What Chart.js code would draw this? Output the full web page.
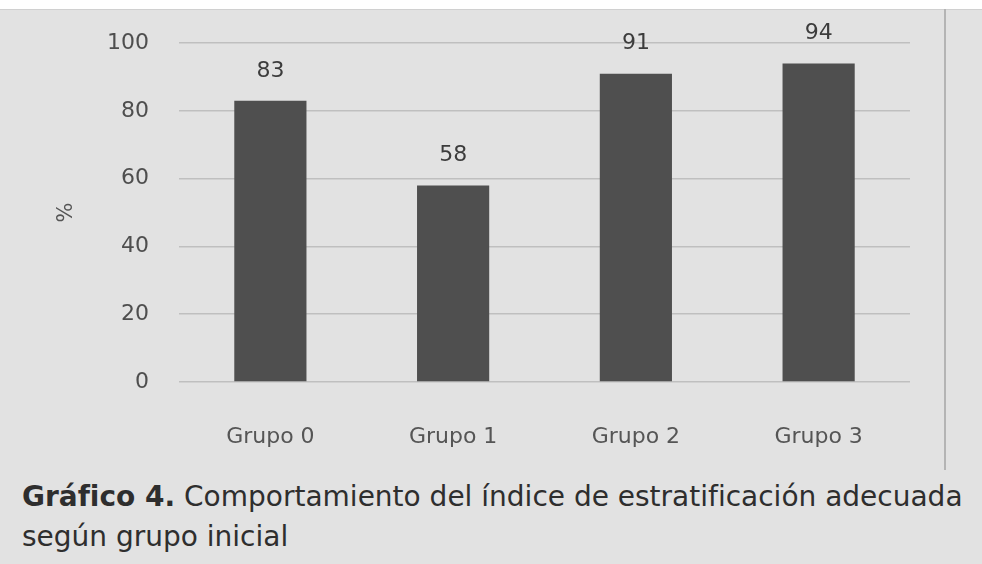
<!DOCTYPE html>
<html lang="es">
<head>
<meta charset="utf-8">
<title>Gráfico 4</title>
<script src="https://cdn.jsdelivr.net/npm/chart.js@4.4.1/dist/chart.umd.min.js"></script>
<style>
	html, body { margin: 0; padding: 0; }
	body { width: 982px; height: 564px; background: #e2e2e2; position: relative; overflow: hidden; font-family: "DejaVu Sans", sans-serif; }
	#frame { position: absolute; left: 0; top: 0; width: 945px; height: 470px; }
	#topstrip { position: absolute; left: 0; top: 0; width: 982px; height: 9px; background: #fff; border-bottom: 1px solid #d0d0d0; }
	#rline { position: absolute; left: 944px; top: 9px; width: 2px; height: 461px; background: #b4b4b4; }
	#caption { position: absolute; left: 22px; top: 477px; font-size: 28px; line-height: 40px; color: #2e2e2e; white-space: nowrap; }
</style>
</head>
<body>
<div id="frame"><canvas id="chart" width="945" height="470"></canvas></div>
<div id="topstrip"></div>
<div id="rline"></div>
<div id="caption"><b>Gráfico 4.</b> Comportamiento del índice de estratificación adecuada<br>según grupo inicial</div>
<script>
var categories = ["Grupo 0", "Grupo 1", "Grupo 2", "Grupo 3"];
var values = [83, 58, 91, 94];
var yTicks = [0, 20, 40, 60, 80, 100];

// numbers above the bars
var barLabels = {
	id: "barLabels",
	afterDatasetsDraw: function(chart){
		var ctx = chart.ctx;
		ctx.save();
		ctx.font = "22px 'DejaVu Sans'";
		ctx.fillStyle = "#3c3c3c";
		ctx.textAlign = "center";
		ctx.textBaseline = "middle";
		chart.getDatasetMeta(0).data.forEach(function(bar, i){
			ctx.fillText(String(values[i]), bar.x, bar.y - 30);
		});
		ctx.restore();
	}
};

new Chart(document.getElementById("chart"), {
	type: "bar",
	data: {
		labels: categories,
		datasets: [{ data: values, backgroundColor: "#4f4f4f", borderWidth: 0,
			categoryPercentage: 1, barPercentage: 0.395 }]
	},
	options: {
		responsive: false,
		animation: false,
		devicePixelRatio: 1,
		layout: { padding: { top: 43, right: 35, left: 0, bottom: 0 } },
		plugins: { legend: { display: false }, tooltip: { enabled: false } },
		scales: {
			x: {
				grid: { display: false },
				border: { display: false },
				ticks: { color: "#555", font: { family: "DejaVu Sans", size: 22 }, padding: 34 },
				afterFit: function(scale){ scale.height = 88; }
			},
			y: {
				min: 0, max: 100,
				afterBuildTicks: function(scale){ scale.ticks = yTicks.map(function(v){ return { value: v }; }); },
				grid: { color: "#bfbfbf", lineWidth: 1.5, drawTicks: false },
				border: { display: false },
				ticks: { color: "#4e4e4e", font: { family: "DejaVu Sans", size: 22 }, padding: 30 },
				title: { display: true, text: "%", color: "#555", font: { family: "DejaVu Sans", size: 21 }, padding: { top: 54, bottom: 0 } },
				afterFit: function(scale){ scale.width = 179; }
			}
		}
	},
	plugins: [barLabels]
});
</script>
</body>
</html>
